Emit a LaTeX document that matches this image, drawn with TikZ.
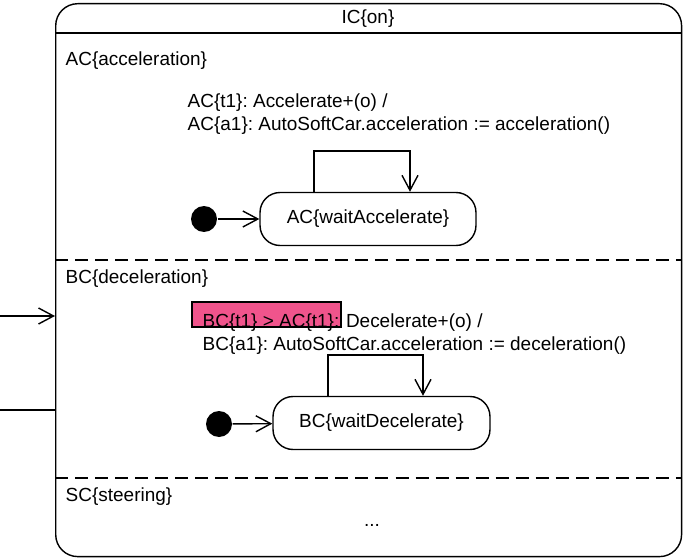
\documentclass[tikz,border=0pt]{standalone}
\usepackage{fontspec}
\setmainfont{Liberation Sans}
\usetikzlibrary{arrows.meta}
\definecolor{hilite}{RGB}{240,84,140}
\frenchspacing
\tikzset{
  lbl/.style={font=\fontsize{10.8}{13}\selectfont, inner sep=0pt},
  state/.style={draw, rounded corners=0.4cm, minimum height=1.06cm, lbl},
  init/.style={circle, fill=black, minimum size=0.52cm, inner sep=0pt},
  tr/.style={-{Straight Barb[length=3mm,width=3.2mm]}},
}
\begin{document}
\begin{tikzpicture}[x=0.02cm,y=-0.02cm,line width=0.8pt]
\useasboundingbox (0,0) rectangle (685,560);
% outer state and its regions
\node[draw, rounded corners=0.44cm, minimum width=12.52cm, minimum height=11.06cm, anchor=north west, inner sep=0pt] (on) at (55,3) {};
\draw (55,33) -- (681,33);
\draw[dash pattern=on 7.4pt off 4pt] (55,260) -- (681,260);
\draw[dash pattern=on 7.4pt off 4pt] (55,478) -- (681,478);
\path[lbl]
  (368,19) node (onT) {IC\{on\}}
  (65,61) node[anchor=west] (accT) {AC\{acceleration\}}
  (65,279) node[anchor=west] (decT) {BC\{deceleration\}}
  (65,497) node[anchor=west] (steT) {SC\{steering\}}
  (372,525) node (steD) {...}
  ;
% incoming lines
\coordinate (in1) at (0,316);
\coordinate (in2) at (0,410);
\draw[tr] (in1) -- (in1 -| on.west);
\draw (in2) -- (in2 -| on.west);
% acceleration
\node[state, minimum width=4.32cm] (acW) at (368,219) {AC\{waitAccelerate\}};
\node[init] (acI) at (204,219) {};
\draw[tr] (acI) -- (acW);
\draw[tr] ([xshift=-1.08cm]acW.north) -- ++(0,-41) -| ([xshift=0.84cm]acW.north);
\node[lbl, anchor=base west] (acT1) at (187,108) {AC\{t1\}: Accelerate+(o) /};
\node[lbl, anchor=base west] (acT2) at (187,131) {AC\{a1\}: AutoSoftCar.acceleration := acceleration()};
% deceleration
\draw[fill=hilite, line width=0.6pt] (192,302) rectangle (341,327);
\node[state, minimum width=4.34cm] (bcW) at (381.5,423) {BC\{waitDecelerate\}};
\node[init] (bcI) at (219,424) {};
\draw[tr] (bcI) -- (bcW);
\draw[tr] ([xshift=-1.07cm]bcW.north) -- ++(0,-41) -| ([xshift=0.83cm]bcW.north);
\node[lbl, anchor=base west] (bcG) at (202,327) {BC\{t1\} > AC\{t1\}:};
\node[lbl, anchor=base west, xshift=3pt] (bcT1) at (bcG.base east) {Decelerate+(o) /};
\node[lbl, anchor=base west] (bcT2) at (202,350) {BC\{a1\}: AutoSoftCar.acceleration := deceleration()};
\end{tikzpicture}
\end{document}
